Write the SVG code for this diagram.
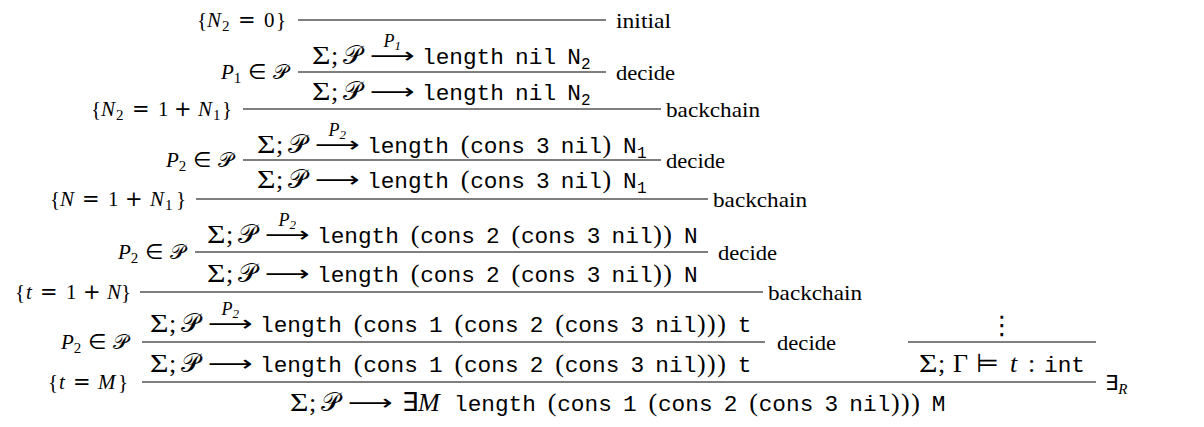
<svg xmlns="http://www.w3.org/2000/svg" width="1204" height="427" viewBox="0 0 1204 427">
  <style>
    text { fill: #000; }
    .rm { font-family: "Liberation Serif", serif; }
    .it { font-family: "Liberation Serif", serif; font-style: italic; }
    .tt { font-family: "Liberation Mono", monospace; font-size: 22.75px; font-style: normal; }
    .ts { font-family: "Liberation Mono", monospace; font-size: 16px; font-style: normal; }
    .sy { font-family: "DejaVu Sans", sans-serif; font-style: normal; }
    .cal { font-family: "DejaVu Sans", "DejaVu Serif", "Noto Sans", sans-serif; font-style: normal; }
    .arr { font-family: "DejaVu Sans", sans-serif; font-size: 22px; }
    .m { font-size: 26px; }
    .l { font-size: 21px; }
    .sup { font-size: 18px; }
    .ssub { font-size: 13px; }
    .lsub { font-size: 15px; }
    .rule { stroke: #000; stroke-width: 1.2; }
  </style>

  <!-- horizontal inference bars -->
  <g id="inference-lines">
    <line class="rule" x1="298" y1="20" x2="606" y2="20"/>
    <line class="rule" x1="298" y1="72" x2="606" y2="72"/>
    <line class="rule" x1="243" y1="109" x2="661" y2="109"/>
    <line class="rule" x1="243" y1="160" x2="661" y2="160"/>
    <line class="rule" x1="196" y1="199" x2="708" y2="199"/>
    <line class="rule" x1="195" y1="252" x2="708" y2="252"/>
    <line class="rule" x1="140" y1="292" x2="763" y2="292"/>
    <line class="rule" x1="142" y1="342" x2="765" y2="342"/>
    <line class="rule" x1="908" y1="342" x2="1096" y2="342"/>
    <line class="rule" x1="142" y1="382" x2="1096" y2="382"/>
  </g>

  <!-- initial -->
  <g id="step-initial">
    <text class="l rm" y="27"><tspan x="197">{</tspan><tspan class="it" x="207">N</tspan><tspan class="lsub" x="222" y="31">2</tspan><tspan class="sy" x="238" y="27">=</tspan><tspan x="264">0</tspan><tspan x="276">}</tspan></text>
    <text class="l rm" x="616" y="28" textLength="55" lengthAdjust="spacingAndGlyphs">initial</text>
  </g>

  <!-- decide with P1 -->
  <g id="step-decide-1">
    <text class="m rm" y="64"><tspan x="312" textLength="18.5" lengthAdjust="spacingAndGlyphs">Σ</tspan><tspan x="331">;</tspan><tspan class="cal" x="343">𝒫</tspan><tspan class="tt" x="422">length</tspan><tspan class="tt" x="515.1">nil</tspan><tspan class="tt" x="567.25">N</tspan><tspan class="ts" x="581" dy="5">2</tspan></text>
    <text class="arr" x="370" y="63" textLength="45" lengthAdjust="spacingAndGlyphs">⟶</text>
    <text class="it sup" x="383.5" y="47">P<tspan class="rm ssub" dy="3">1</tspan></text>
    <text class="l rm" x="288" y="79" text-anchor="end"><tspan class="it">P</tspan><tspan class="lsub" dy="4">1</tspan><tspan class="sy" dy="-4"> ∈ </tspan><tspan class="cal">𝒫</tspan></text>
    <text class="l rm" x="616" y="80" textLength="59" lengthAdjust="spacingAndGlyphs">decide</text>
    <text class="m rm" y="100"><tspan x="312" textLength="18.5" lengthAdjust="spacingAndGlyphs">Σ</tspan><tspan x="331">;</tspan><tspan class="cal" x="343">𝒫</tspan><tspan class="tt" x="422">length</tspan><tspan class="tt" x="515.1">nil</tspan><tspan class="tt" x="567.25">N</tspan><tspan class="ts" x="581" dy="5">2</tspan></text>
    <text class="arr" x="370" y="99" textLength="45" lengthAdjust="spacingAndGlyphs">⟶</text>
  </g>

  <!-- backchain N2 = 1 + N1 -->
  <g id="step-backchain-1">
    <text class="l rm" y="116"><tspan x="91">{</tspan><tspan class="it" x="101">N</tspan><tspan class="lsub" x="116" y="120">2</tspan><tspan class="sy" x="132" y="116">=</tspan><tspan x="158">1</tspan><tspan class="sy" x="174">+</tspan><tspan class="it" x="198">N</tspan><tspan class="lsub" x="213" y="120">1</tspan><tspan x="222" y="116">}</tspan></text>
    <text class="l rm" x="666" y="117" textLength="94" lengthAdjust="spacingAndGlyphs">backchain</text>
  </g>

  <!-- decide with P2 on (cons 3 nil) -->
  <g id="step-decide-2">
    <text class="m rm" y="153"><tspan x="257" textLength="18.5" lengthAdjust="spacingAndGlyphs">Σ</tspan><tspan x="276">;</tspan><tspan class="cal" x="288">𝒫</tspan><tspan class="tt" x="367">length</tspan><tspan x="460.8">(</tspan><tspan class="tt" x="470.2">cons</tspan><tspan class="tt" x="536">3</tspan><tspan class="tt" x="560.85">nil</tspan><tspan x="602.5">)</tspan><tspan class="tt" x="623.1">N</tspan><tspan class="ts" x="637" dy="5">1</tspan></text>
    <text class="arr" x="315" y="152" textLength="45" lengthAdjust="spacingAndGlyphs">⟶</text>
    <text class="it sup" x="328.5" y="136">P<tspan class="rm ssub" dy="3">2</tspan></text>
    <text class="l rm" x="233" y="167" text-anchor="end"><tspan class="it">P</tspan><tspan class="lsub" dy="4">2</tspan><tspan class="sy" dy="-4"> ∈ </tspan><tspan class="cal">𝒫</tspan></text>
    <text class="l rm" x="666" y="168" textLength="59" lengthAdjust="spacingAndGlyphs">decide</text>
    <text class="m rm" y="188"><tspan x="257" textLength="18.5" lengthAdjust="spacingAndGlyphs">Σ</tspan><tspan x="276">;</tspan><tspan class="cal" x="288">𝒫</tspan><tspan class="tt" x="367">length</tspan><tspan x="460.8">(</tspan><tspan class="tt" x="470.2">cons</tspan><tspan class="tt" x="536">3</tspan><tspan class="tt" x="560.85">nil</tspan><tspan x="602.5">)</tspan><tspan class="tt" x="623.1">N</tspan><tspan class="ts" x="637" dy="5">1</tspan></text>
    <text class="arr" x="315" y="187" textLength="45" lengthAdjust="spacingAndGlyphs">⟶</text>
  </g>

  <!-- backchain N = 1 + N1 -->
  <g id="step-backchain-2">
    <text class="l rm" y="206"><tspan x="50">{</tspan><tspan class="it" x="60">N</tspan><tspan class="sy" x="82">=</tspan><tspan x="108">1</tspan><tspan class="sy" x="125">+</tspan><tspan class="it" x="150">N</tspan><tspan class="lsub" x="165" y="210">1</tspan><tspan x="176" y="206">}</tspan></text>
    <text class="l rm" x="713" y="207" textLength="94" lengthAdjust="spacingAndGlyphs">backchain</text>
  </g>

  <!-- decide with P2 on (cons 2 (cons 3 nil)) -->
  <g id="step-decide-3">
    <text class="m rm" y="243"><tspan x="207" textLength="18.5" lengthAdjust="spacingAndGlyphs">Σ</tspan><tspan x="226">;</tspan><tspan class="cal" x="238">𝒫</tspan><tspan class="tt" x="317">length</tspan><tspan x="410.8">(</tspan><tspan class="tt" x="420.2">cons</tspan><tspan class="tt" x="486">2</tspan><tspan x="511.5">(</tspan><tspan class="tt" x="520.95">cons</tspan><tspan class="tt" x="586.75">3</tspan><tspan class="tt" x="611.6">nil</tspan><tspan x="653.2">)</tspan><tspan x="663.3">)</tspan><tspan class="tt" x="683.95">N</tspan></text>
    <text class="arr" x="265" y="242" textLength="45" lengthAdjust="spacingAndGlyphs">⟶</text>
    <text class="it sup" x="278.5" y="226">P<tspan class="rm ssub" dy="3">2</tspan></text>
    <text class="l rm" x="185" y="259" text-anchor="end"><tspan class="it">P</tspan><tspan class="lsub" dy="4">2</tspan><tspan class="sy" dy="-4"> ∈ </tspan><tspan class="cal">𝒫</tspan></text>
    <text class="l rm" x="718" y="260" textLength="59" lengthAdjust="spacingAndGlyphs">decide</text>
    <text class="m rm" y="282"><tspan x="207" textLength="18.5" lengthAdjust="spacingAndGlyphs">Σ</tspan><tspan x="226">;</tspan><tspan class="cal" x="238">𝒫</tspan><tspan class="tt" x="317">length</tspan><tspan x="410.8">(</tspan><tspan class="tt" x="420.2">cons</tspan><tspan class="tt" x="486">2</tspan><tspan x="511.5">(</tspan><tspan class="tt" x="520.95">cons</tspan><tspan class="tt" x="586.75">3</tspan><tspan class="tt" x="611.6">nil</tspan><tspan x="653.2">)</tspan><tspan x="663.3">)</tspan><tspan class="tt" x="683.95">N</tspan></text>
    <text class="arr" x="265" y="281" textLength="45" lengthAdjust="spacingAndGlyphs">⟶</text>
  </g>

  <!-- backchain t = 1 + N -->
  <g id="step-backchain-3">
    <text class="l rm" y="299"><tspan x="15">{</tspan><tspan class="it" x="26">t</tspan><tspan class="sy" x="40">=</tspan><tspan x="66">1</tspan><tspan class="sy" x="83">+</tspan><tspan class="it" x="107">N</tspan><tspan x="121">}</tspan></text>
    <text class="l rm" x="768" y="300" textLength="94" lengthAdjust="spacingAndGlyphs">backchain</text>
  </g>

  <!-- decide with P2 on (cons 1 (cons 2 (cons 3 nil))) -->
  <g id="step-decide-4">
    <text class="m rm" y="332"><tspan x="150" textLength="18.5" lengthAdjust="spacingAndGlyphs">Σ</tspan><tspan x="169">;</tspan><tspan class="cal" x="181">𝒫</tspan><tspan class="tt" x="260">length</tspan><tspan x="353.8">(</tspan><tspan class="tt" x="363.2">cons</tspan><tspan class="tt" x="429">1</tspan><tspan x="454.5">(</tspan><tspan class="tt" x="463.95">cons</tspan><tspan class="tt" x="529.75">2</tspan><tspan x="555.3">(</tspan><tspan class="tt" x="564.7">cons</tspan><tspan class="tt" x="630.5">3</tspan><tspan class="tt" x="655.35">nil</tspan><tspan x="697">)</tspan><tspan x="707.1">)</tspan><tspan x="717.2">)</tspan><tspan class="tt" x="737.8">t</tspan></text>
    <text class="arr" x="208" y="331" textLength="45" lengthAdjust="spacingAndGlyphs">⟶</text>
    <text class="it sup" x="221.5" y="315">P<tspan class="rm ssub" dy="3">2</tspan></text>
    <text class="l rm" x="128" y="349" text-anchor="end"><tspan class="it">P</tspan><tspan class="lsub" dy="4">2</tspan><tspan class="sy" dy="-4"> ∈ </tspan><tspan class="cal">𝒫</tspan></text>
    <text class="l rm" x="777" y="350" textLength="59" lengthAdjust="spacingAndGlyphs">decide</text>
    <text class="m rm" y="372"><tspan x="150" textLength="18.5" lengthAdjust="spacingAndGlyphs">Σ</tspan><tspan x="169">;</tspan><tspan class="cal" x="181">𝒫</tspan><tspan class="tt" x="260">length</tspan><tspan x="353.8">(</tspan><tspan class="tt" x="363.2">cons</tspan><tspan class="tt" x="429">1</tspan><tspan x="454.5">(</tspan><tspan class="tt" x="463.95">cons</tspan><tspan class="tt" x="529.75">2</tspan><tspan x="555.3">(</tspan><tspan class="tt" x="564.7">cons</tspan><tspan class="tt" x="630.5">3</tspan><tspan class="tt" x="655.35">nil</tspan><tspan x="697">)</tspan><tspan x="707.1">)</tspan><tspan x="717.2">)</tspan><tspan class="tt" x="737.8">t</tspan></text>
    <text class="arr" x="208" y="371" textLength="45" lengthAdjust="spacingAndGlyphs">⟶</text>
  </g>

  <!-- typing premise -->
  <g id="premise-typing">
    <text class="m sy" x="1002" y="334" text-anchor="middle">⋮</text>
    <text class="m rm" y="372"><tspan x="919" textLength="18.5" lengthAdjust="spacingAndGlyphs">Σ</tspan><tspan x="938">;</tspan><tspan x="953">Γ</tspan><tspan class="sy" x="976">⊨</tspan><tspan class="it" x="1010">t</tspan><tspan x="1028">:</tspan><tspan class="tt" x="1044">int</tspan></text>
  </g>

  <!-- existential introduction -->
  <g id="step-exists-right">
    <text class="l rm" y="389"><tspan x="48">{</tspan><tspan class="it" x="59">t</tspan><tspan class="sy" x="73">=</tspan><tspan class="it" x="98">M</tspan><tspan x="118">}</tspan></text>
    <text class="l sy" x="1105" y="390">∃<tspan class="it lsub" dy="4">R</tspan></text>
    <text class="m rm" y="411"><tspan x="290" textLength="18.5" lengthAdjust="spacingAndGlyphs">Σ</tspan><tspan x="309">;</tspan><tspan class="cal" x="321">𝒫</tspan><tspan class="sy" x="402">∃</tspan><tspan class="it" x="418">M</tspan><tspan class="tt" x="454">length</tspan><tspan x="547.8">(</tspan><tspan class="tt" x="557.2">cons</tspan><tspan class="tt" x="623">1</tspan><tspan x="648.5">(</tspan><tspan class="tt" x="657.95">cons</tspan><tspan class="tt" x="723.75">2</tspan><tspan x="749.3">(</tspan><tspan class="tt" x="758.7">cons</tspan><tspan class="tt" x="824.5">3</tspan><tspan class="tt" x="849.35">nil</tspan><tspan x="891">)</tspan><tspan x="901.1">)</tspan><tspan x="911.2">)</tspan><tspan class="tt" x="931.8">M</tspan></text>
    <text class="arr" x="348" y="410" textLength="45" lengthAdjust="spacingAndGlyphs">⟶</text>
  </g>
</svg>
